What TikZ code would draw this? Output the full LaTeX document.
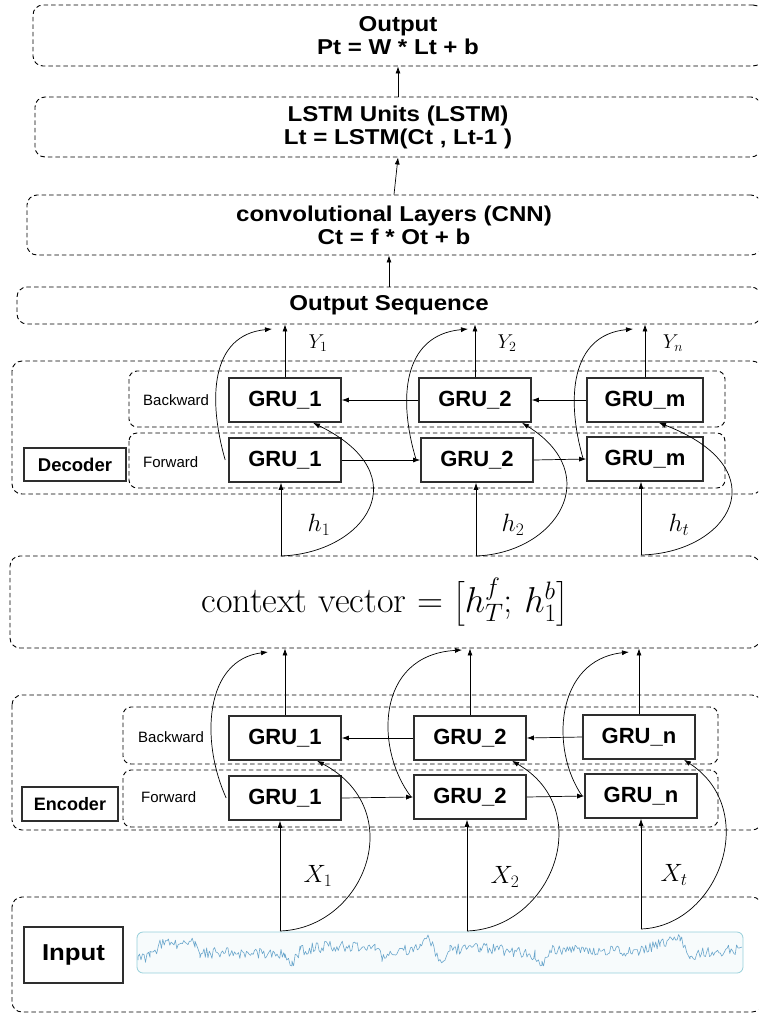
\documentclass[tikz,border=0pt]{standalone}
\usepackage{fix-cm}
\usepackage{amsmath}
\usepackage{fontspec}
\newfontfamily\arialfont{Liberation Sans}
\newfontfamily\widefont[FakeStretch=1.12]{Liberation Sans}
\usetikzlibrary{arrows.meta, positioning}
\definecolor{boxgray}{HTML}{2E2E2E}
\definecolor{sigline}{HTML}{6AA6CC}
\definecolor{sigframe}{HTML}{96CFDA}
\definecolor{sigfill}{HTML}{F7FBFC}

\tikzset{
  layer/.style={draw=black, dash pattern=on 4.5pt off 3pt, line width=0.9pt,
    rounded corners=10pt, align=center, inner sep=0pt},
  rowbox/.style={draw=black, dash pattern=on 4.5pt off 3pt, line width=0.9pt,
    rounded corners=8pt},
  grubox/.style={draw=boxgray, line width=1.6pt, minimum width=112pt,
    minimum height=44pt, inner sep=0pt,
    font=\arialfont\bfseries\fontsize{22}{24}\selectfont},
  tagbox/.style={draw=boxgray, line width=1.6pt, inner sep=0pt},
  dirlabel/.style={anchor=west, inner sep=0pt,
    font=\arialfont\fontsize{15}{17}\selectfont},
  headtext/.style={font=\widefont\bfseries\fontsize{21.5}{23}\selectfont},
  arr/.style={-{Latex[length=7pt,width=5pt]}, line width=0.7pt},
}

\begin{document}
\begin{tikzpicture}[x=1pt, y=-1pt]
  \useasboundingbox (0,0) rectangle (758,1015);
  \clip (0,0) rectangle (758,1015);

  % Top of the stack
  \node[layer, headtext, minimum width=730pt, minimum height=61pt] (out)
    at (398,35.5) {Output\\Pt = W * Lt + b};
  \node[layer, headtext, minimum width=726pt, minimum height=60pt] (lstm)
    at (398,127) {LSTM Units (LSTM)\\Lt = LSTM(Ct , Lt-1 )};
  \node[layer, headtext, minimum width=734pt, minimum height=60pt] (cnn)
    at (394,225) {convolutional Layers (CNN)\\Ct = f * Ot + b};
  \node[layer, headtext, minimum width=744pt, minimum height=37pt] (oseq)
    at (389,305.5) {Output Sequence};

  \draw[arr] (lstm.north) -- (out.south);
  \draw[arr] (cnn.north) -- (lstm.south);
  \draw[arr] (oseq.north) -- (oseq.north |- cnn.south);

  % Decoder
  \draw[layer] (12,361) rectangle (762,494);
  \draw[rowbox] (129,371) rectangle (725,427);
  \draw[rowbox] (129,433) rectangle (725,488);
  \node[tagbox, minimum width=102pt, minimum height=33pt,
    font=\arialfont\bfseries\fontsize{18.5}{20}\selectfont] (dec) at (75,464.5) {Decoder};
  \node[dirlabel] (decbw) at (143,400) {Backward};
  \node[dirlabel] (decfw) at (143,462) {Forward};

  \node[grubox] (decB1) at (285,400) {GRU\_1};
  \node[grubox] (decB2) at (475,400) {GRU\_2};
  \node[grubox, minimum width=116pt] (decBm) at (645,400) {GRU\_m};
  \node[grubox] (decF1) at (285,460) {GRU\_1};
  \node[grubox] (decF2) at (477,460) {GRU\_2};
  \node[grubox, minimum width=116pt] (decFm) at (645,459) {GRU\_m};

  \draw[arr] (decB2.west) -- (decB1.east);
  \draw[arr] (decBm.west) -- (decB2.east);
  \draw[arr] (decF1.east) -- (decF2.west);
  \draw[arr] (decF2.east) -- (decFm.west);

  % decoder outputs
  \coordinate (ya1) at (272,329);
  \coordinate (ya2) at (468,329);
  \coordinate (ya3) at (633,329);
  \draw[arr] (decB1.north) -- (decB1.north |- oseq.south);
  \draw[arr] (decB2.north) -- (decB2.north |- oseq.south);
  \draw[arr] (decBm.north) -- (decBm.north |- oseq.south);
  \draw[arr] ([xshift=-3pt]decF1.west) .. controls (208,400) and (210,335) .. (ya1);
  \draw[arr] ([xshift=-4pt]decF2.west) .. controls (398,400) and (402,335) .. (ya2);
  \draw[arr] ([xshift=-3pt]decFm.west) .. controls (566,400) and (570,335) .. (ya3);
  \node[font=\fontsize{20}{22}\selectfont] (y1) at (318,343) {$Y_1$};
  \node[font=\fontsize{20}{22}\selectfont] (y2) at (507,343) {$Y_2$};
  \node[font=\fontsize{20}{22}\selectfont] (yn) at (673,343) {$Y_n$};

  % Context vector
  \node[layer, minimum width=750pt, minimum height=92pt,
    font=\fontsize{36}{42}\selectfont] (ctx) at (385,602)
    {context vector $= \bigl[h_T^f;\, h_1^b\bigr]$};

  \coordinate (hs1) at (281,556);
  \coordinate (hs2) at (476,556);
  \coordinate (hst) at (641,555);
  \draw[arr] (hs1) -- (hs1 |- decF1.south);
  \draw[arr] (hs2) -- (hs2 |- decF2.south);
  \draw[arr] (hst) -- (hst |- decFm.south);
  \draw[arr] (hs1) .. controls (365,553) and (420,475) .. ([xshift=28pt]decB1.south);
  \draw[arr] (hs2) .. controls (556,553) and (606,475) .. ([xshift=47pt]decB2.south);
  \draw[arr] (hst) .. controls (729,553) and (781,470) .. ([xshift=14pt]decBm.south);
  \node[font=\fontsize{25}{28}\selectfont] (lh1) at (319,525) {$h_1$};
  \node[font=\fontsize{25}{28}\selectfont] (lh2) at (513,525) {$h_2$};
  \node[font=\fontsize{25}{28}\selectfont] (lht) at (679,525) {$h_t$};

  % Encoder
  \draw[layer] (12,695) rectangle (762,830);
  \draw[rowbox] (123,707) rectangle (718,764);
  \draw[rowbox] (123,770) rectangle (718,827);
  \node[tagbox, minimum width=96pt, minimum height=34pt,
    font=\arialfont\bfseries\fontsize{18}{20}\selectfont] (enc) at (70,804) {Encoder};
  \node[dirlabel] (encbw) at (138,737) {Backward};
  \node[dirlabel] (encfw) at (141,797) {Forward};

  \node[grubox] (encB1) at (285,738) {GRU\_1};
  \node[grubox] (encB2) at (470,738) {GRU\_2};
  \node[grubox] (encBn) at (639,737) {GRU\_n};
  \node[grubox] (encF1) at (285,798) {GRU\_1};
  \node[grubox] (encF2) at (470,797) {GRU\_2};
  \node[grubox] (encFn) at (641,796) {GRU\_n};

  \draw[arr] (encB2.west) -- (encB1.east);
  \draw[arr] (encBn.west) -- (encB2.east);
  \draw[arr] (encF1.east) -- (encF2.west);
  \draw[arr] (encF2.east) -- (encFn.west);

  % encoder states into the context vector
  \coordinate (ca1) at (268,652);
  \coordinate (ca2) at (462,650);
  \coordinate (ca3) at (629,652);
  \draw[arr] (encB1.north) -- (encB1.north |- ctx.south);
  \draw[arr] (encB2.north) -- (encB2.north |- ctx.south);
  \draw[arr] (encBn.north) -- (encBn.north |- ctx.south);
  \draw[arr] ([xshift=-2pt]encF1.west) .. controls (200,740) and (205,660) .. (ca1);
  \draw[arr] ([xshift=-2pt]encF2.west) .. controls (375,750) and (375,655) .. (ca2);
  \draw[arr] ([xshift=-2pt]encFn.west) .. controls (550,750) and (555,660) .. (ca3);

  % Input series
  \draw[layer] (12,897) rectangle (762,1012);
  \node[tagbox, minimum width=99pt, minimum height=56pt,
    font=\widefont\bfseries\fontsize{23}{26}\selectfont] (inp) at (73.5,955) {Input};
  \draw[sigframe, fill=sigfill, line width=0.8pt, rounded corners=6pt]
    (137,932) rectangle (743,973);
  \pgfmathsetseed{17}
  \draw[sigline, line width=0.6pt, line join=round] (138,960)
    \foreach \xa/\ya/\xb/\yb [evaluate=\xa as \ns using {int(max(3,(\xb-\xa)/1.3))}] in
    {138/960/150/956, 150/956/160/945, 160/945/195/942, 195/942/200/953,
     200/953/285/953, 285/953/292/963, 292/963/300/950, 300/950/330/946,
     330/946/375/946, 375/946/382/957, 382/957/420/946, 420/946/428/938,
     428/938/440/960, 440/960/450/950, 450/950/480/947, 480/947/535/955,
     535/955/542/964, 542/964/550/950, 550/950/640/951, 640/951/660/943,
     660/943/680/939, 680/939/690/958, 690/958/700/952, 700/952/742/950}
    { -- plot[domain=\xa:\xb, samples=\ns] (\x, {\ya+(\yb-\ya)*(\x-\xa)/(\xb-\xa)+5.5*rand}) };

  \coordinate (xs1) at (280,931);
  \coordinate (xs2) at (467,931);
  \coordinate (xst) at (641,929);
  \draw[arr] (xs1) -- (xs1 |- encF1.south);
  \draw[arr] (xs2) -- (xs2 |- encF2.south);
  \draw[arr] (xst) -- (xst |- encFn.south);
  \draw[arr] (xs1) .. controls (365,928) and (410,810) .. ([xshift=32pt]encB1.south);
  \draw[arr] (xs2) .. controls (552,928) and (597,810) .. ([xshift=42pt]encB2.south);
  \draw[arr] (xst) .. controls (719,926) and (761,810) .. ([xshift=45pt]encBn.south);
  \node[font=\fontsize{25}{28}\selectfont] (lx1) at (318,876) {$X_1$};
  \node[font=\fontsize{25}{28}\selectfont] (lx2) at (505,877) {$X_2$};
  \node[font=\fontsize{25}{28}\selectfont] (lxt) at (674,875) {$X_t$};
\end{tikzpicture}
\end{document}
